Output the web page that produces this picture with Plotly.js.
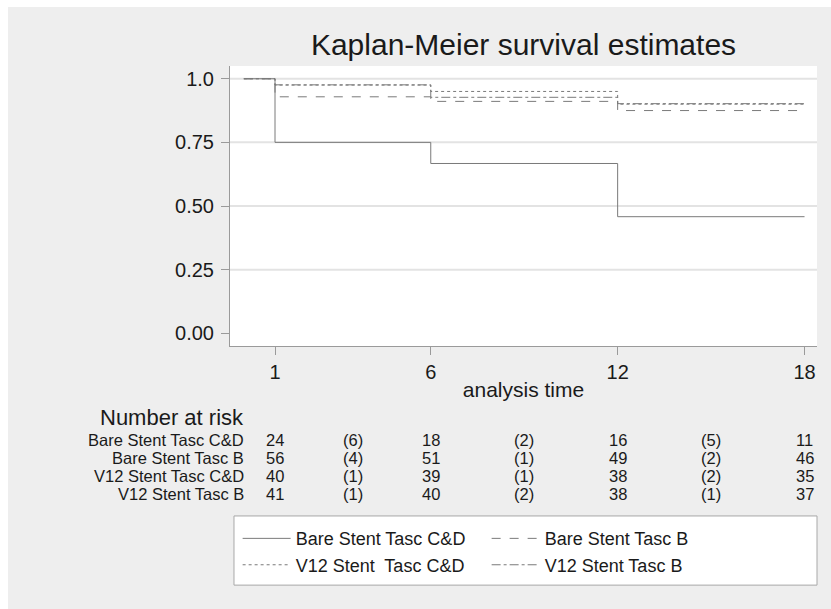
<!DOCTYPE html>
<html>
<head>
<meta charset="utf-8">
<script src="https://cdn.plot.ly/plotly-3.0.1.min.js"></script>
<style>
  html, body { margin: 0; padding: 0; background: #ffffff; }
  #chart { position: absolute; left: 8px; top: 7px; width: 823px; height: 602px; }
</style>
</head>
<body>
<div id="chart"></div>
<script>
// ---- data ----
const times = [0, 1, 6, 12, 18];
const bareCD = [1.0, 0.75, 0.667, 0.458, 0.458];
const bareB  = [1.0, 0.929, 0.911, 0.875, 0.875];
const v12CD  = [1.0, 0.975, 0.95, 0.90, 0.90];
const v12B   = [1.0, 0.976, 0.927, 0.902, 0.902];

const seriesNames = ["Bare Stent Tasc C&D", "Bare Stent Tasc B", "V12 Stent\u00A0 Tasc C&D", "V12 Stent Tasc B"];
const riskLabels  = ["Bare Stent Tasc C&D", "Bare Stent Tasc B", "V12 Stent Tasc C&D", "V12 Stent Tasc B"];

const xTickVals = [1, 6, 12, 18];
const yTickVals = [0, 0.25, 0.5, 0.75, 1.0];
const yTickText = ["0.00", "0.25", "0.50", "0.75", "1.0"];
const gridVals  = [0.25, 0.5, 0.75, 1.0];

const riskTimes = [1, 6, 12, 18];
const censTimes = [3.5, 9, 15];
const atRisk = [
  [24, 18, 16, 11],
  [56, 51, 49, 46],
  [40, 39, 38, 35],
  [41, 40, 38, 37]
];
const censored = [
  [6, 2, 5],
  [4, 1, 2],
  [1, 1, 2],
  [1, 2, 1]
];

// ---- styles ----
const FONT = "Liberation Sans, Arial, sans-serif";
const TXT = "#1a1a1a";
const dashes = ["solid", "dash", "dot", "dashdot"];
const lineColor = "#7a7a7a";
const allSeries = [bareCD, bareB, v12CD, v12B];

const traces = allSeries.map((s, i) => ({
  type: "scatter",
  mode: "lines",
  x: times,
  y: s,
  name: seriesNames[i],
  line: { shape: "hv", color: lineColor, width: 1, dash: dashes[i] }
}));

const rowY0 = -0.336, rowStep = -0.0645;

const annotations = [];
annotations.push({
  xref: "paper", yref: "paper", x: 0.028, y: -0.257,
  xanchor: "right", yanchor: "middle", showarrow: false,
  text: "Number at risk", font: { family: FONT, size: 22, color: TXT }
});
riskLabels.forEach((lab, r) => {
  const y = rowY0 + r * rowStep;
  annotations.push({
    xref: "paper", yref: "paper", x: 0.028, y: y,
    xanchor: "right", yanchor: "middle", showarrow: false,
    text: lab, font: { family: FONT, size: 16.5, color: TXT }
  });
  riskTimes.forEach((t, c) => {
    annotations.push({
      xref: "x", yref: "paper", x: t, y: y, xanchor: "center", yanchor: "middle",
      showarrow: false, text: String(atRisk[r][c]), font: { family: FONT, size: 16.5, color: TXT }
    });
  });
  censTimes.forEach((t, c) => {
    annotations.push({
      xref: "x", yref: "paper", x: t, y: y, xanchor: "center", yanchor: "middle",
      showarrow: false, text: "(" + censored[r][c] + ")", font: { family: FONT, size: 16.5, color: TXT }
    });
  });
});

const shapes = gridVals.map(v => ({
  type: "line", xref: "paper", yref: "y", x0: 0, x1: 1, y0: v, y1: v,
  line: { color: "#e3e3e3", width: 2 }, layer: "below"
}));
shapes.push({
  type: "rect", xref: "paper", yref: "paper",
  x0: 0.0068, x1: 1.0, y0: -0.607, y1: -0.854,
  fillcolor: "#ffffff", line: { color: "#a8a8a8", width: 1 }, layer: "below"
});

const layout = {
  width: 823, height: 602,
  margin: { l: 222, r: 14, t: 59, b: 263, autoexpand: false },
  paper_bgcolor: "#eeeeee",
  plot_bgcolor: "#ffffff",
  font: { family: FONT, color: TXT },
  title: {
    text: "Kaplan-Meier survival estimates",
    font: { family: FONT, size: 30, color: TXT },
    x: 0.5, xref: "paper", xanchor: "center",
    y: 0.937, yref: "container", yanchor: "middle"
  },
  xaxis: {
    range: [-0.445, 18.4],
    tickvals: xTickVals,
    ticks: "outside", ticklen: 8, tickcolor: "#9a9a9a", tickwidth: 1,
    showline: true, linecolor: "#9a9a9a", linewidth: 1,
    showgrid: false, zeroline: false,
    tickfont: { family: FONT, size: 20, color: TXT },
    title: { text: "analysis time", font: { family: FONT, size: 21, color: TXT }, standoff: 0 }
  },
  yaxis: {
    range: [-0.05, 1.05],
    tickvals: yTickVals, ticktext: yTickText,
    ticks: "outside", ticklen: 8, tickcolor: "#9a9a9a", tickwidth: 1,
    showline: true, linecolor: "#9a9a9a", linewidth: 1,
    showgrid: false, zeroline: false,
    ticklabelstandoff: 3,
    tickfont: { family: FONT, size: 20, color: TXT }
  },
  showlegend: true,
  legend: {
    orientation: "h",
    x: 0.013, xanchor: "left", xref: "paper",
    y: -0.622, yanchor: "top", yref: "paper",
    bgcolor: "rgba(0,0,0,0)", borderwidth: 0,
    entrywidth: 186, entrywidthmode: "pixels",
    itemwidth: 48,
    font: { family: FONT, size: 18, color: TXT },
    traceorder: "normal"
  },
  annotations: annotations,
  shapes: shapes
};

Plotly.newPlot("chart", traces, layout, { displayModeBar: false, staticPlot: true });
</script>
</body>
</html>
